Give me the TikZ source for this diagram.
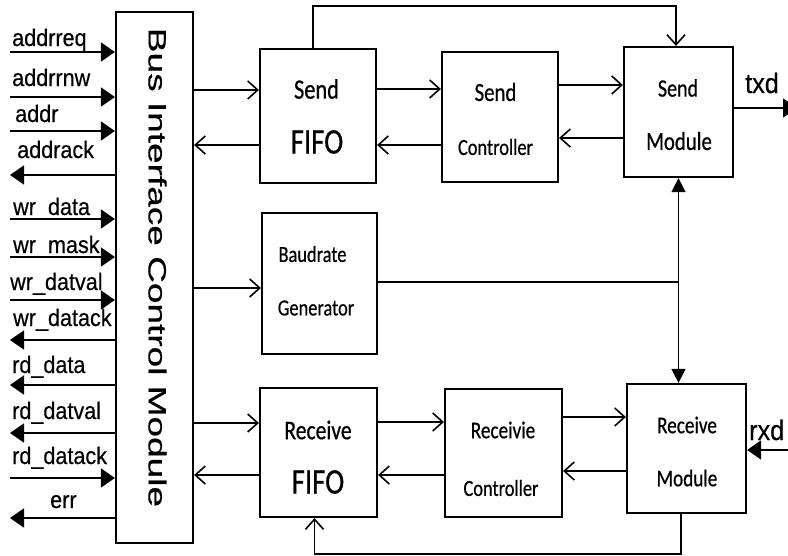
\documentclass[tikz,border=0pt]{standalone}
\usepackage{fontspec}
\setmainfont{Liberation Sans}
\newfontfamily\boxfont{Carlito}[FakeStretch=0.8,FakeBold=0.6]
\newfontfamily\labfont{Liberation Sans}[FakeStretch=0.9,FakeBold=0.4]
\newfontfamily\busfont{Liberation Sans}[FakeBold=0.5]
\usetikzlibrary{arrows.meta}
\tikzset{
  box/.style={draw, line width=2.2pt, inner sep=0pt},
  sigl/.style={anchor=base west, inner sep=0pt, font=\labfont\fontsize{24}{24}\selectfont},
  btxt/.style={inner sep=0pt, font=\boxfont\fontsize{#1}{#1}\selectfont},
  iotxt/.style={anchor=base west, inner sep=0pt, font=\labfont\fontsize{28}{28}\selectfont},
  oarr/.style={line width=1.8pt, -{Straight Barb[length=10pt,width=18pt,line width=1.6pt]}},
  sigin/.style={line width=1.8pt, -{Triangle[length=14pt,width=19pt]}},
  sigout/.style={line width=1.8pt, {Triangle[length=14pt,width=19pt]}-},
  plain/.style={line width=1.8pt},
  vbus/.style={line width=1.4pt, {Triangle[length=14pt,width=14pt]}-{Triangle[length=14pt,width=14pt]}},
}
\begin{document}
\begin{tikzpicture}[x=1pt,y=-1pt]
\useasboundingbox (0,0) rectangle (788,555);
% boxes
\node[box, minimum width=77pt, minimum height=531pt] (bus) at (154.5,277.5) {};
\node[box, minimum width=116pt, minimum height=134pt] (sfifo) at (318,116) {};
\node[box, minimum width=116pt, minimum height=130pt] (sctrl) at (500,117) {};
\node[box, minimum width=109pt, minimum height=130pt] (smod) at (678.5,112) {};
\node[box, minimum width=115pt, minimum height=141pt] (baud) at (319.5,283.5) {};
\node[box, minimum width=117pt, minimum height=129pt] (rfifo) at (318.5,452.5) {};
\node[box, minimum width=117pt, minimum height=128pt] (rctrl) at (503.5,453) {};
\node[box, minimum width=119pt, minimum height=129pt] (rmod) at (686.5,448.5) {};
% bus text
\node[inner sep=0pt, rotate=-90] (bustxt) at (157.5,267.5) {\scalebox{1.48}[1]{\busfont\fontsize{25}{25}\selectfont Bus Interface Control Module}};
% box texts
\node[btxt=28] (t1a) at (316.5,89) {Send};
\node[btxt=36] (t1b) at (317,142) {FIFO};
\node[btxt=26] (t2a) at (495.5,92) {Send};
\node[btxt=23] (t2b) at (495.5,147) {Controller};
\node[btxt=25] (t3a) at (678,88) {Send};
\node[btxt=26] (t3b) at (679,141) {Module};
\node[btxt=23] (t4a) at (312.5,254) {Baudrate};
\node[btxt=23] (t4b) at (316,308) {Generator};
\node[btxt=27] (t5a) at (318,430) {Receive};
\node[btxt=36] (t5b) at (318,482) {FIFO};
\node[btxt=24] (t6a) at (503,430) {Receivie};
\node[btxt=23] (t6b) at (501,488) {Controller};
\node[btxt=24] (t7a) at (687,425) {Receive};
\node[btxt=24] (t7b) at (687,478) {Module};
% left signals
\foreach \i/\y/\by/\bx/\t in {1/52/46/12/addrreq, 2/97/86/12/addrrnw, 3/131/122/15/addr, 5/219/215/13/wr\_data, 6/257/253/13/wr\_mask, 7/300/290/10/wr\_datval, 11/478/464/12/rd\_datack}{
  \coordinate (p\i) at (10,\y);
  \node[sigl] (l\i) at (\bx,\by) {\t};
  \draw[sigin] (p\i) -- (bus.west |- p\i);
}
\foreach \i/\y/\by/\bx/\t in {4/175/158/17/addrack, 8/340/326/13/wr\_datack, 9/385/373/12/rd\_data, 10/433/419/12/rd\_datval, 12/518/508/50/err}{
  \coordinate (p\i) at (10,\y);
  \node[sigl] (l\i) at (\bx,\by) {\t};
  \draw[sigout] (p\i) -- (bus.west |- p\i);
}
% send path
\draw[oarr] (bus.east |- 0,90) -- (sfifo.west |- 0,90);
\draw[oarr] (sfifo.west |- 0,145) -- (bus.east |- 0,145);
\draw[oarr] (sfifo.east |- 0,89) -- (sctrl.west |- 0,89);
\draw[oarr] (sctrl.west |- 0,145) -- (sfifo.east |- 0,145);
\draw[oarr] (sctrl.east |- 0,85) -- (smod.west |- 0,85);
\draw[oarr] (smod.west |- 0,138) -- (sctrl.east |- 0,138);
\draw[oarr] ([xshift=-5pt]sfifo.north) -- ++(0,-42) -| ([xshift=-2.5pt]smod.north);
% txd
\coordinate (txend) at (797,108);
\node[iotxt] (txd) at (745,93) {txd};
\draw[sigin] (smod.east |- txend) -- (txend);
% baud
\draw[oarr] (bus.east |- 0,288) -- (baud.west |- 0,288);
\draw[vbus] (smod.south) -- (smod.south |- rmod.north);
\draw[plain] (baud.east |- 0,282) -- (smod.south |- 0,282);
% receive path
\draw[oarr] (bus.east |- 0,423) -- (rfifo.west |- 0,423);
\draw[oarr] (rfifo.west |- 0,475) -- (bus.east |- 0,475);
\draw[oarr] (rfifo.east |- 0,422) -- (rctrl.west |- 0,422);
\draw[oarr] (rctrl.west |- 0,475) -- (rfifo.east |- 0,475);
\draw[oarr] (rctrl.east |- 0,417) -- (rmod.west |- 0,417);
\draw[oarr] (rmod.west |- 0,471) -- (rctrl.east |- 0,471);
\draw[oarr] ([xshift=-5.5pt]rmod.south) -- ++(0,40) -| ([xshift=-4pt]rfifo.south);
% rxd
\coordinate (rxstart) at (790,450);
\node[iotxt] (rxd) at (749,440) {rxd};
\draw[sigin] (rxstart) -- (rmod.east |- rxstart);
\end{tikzpicture}
\end{document}
